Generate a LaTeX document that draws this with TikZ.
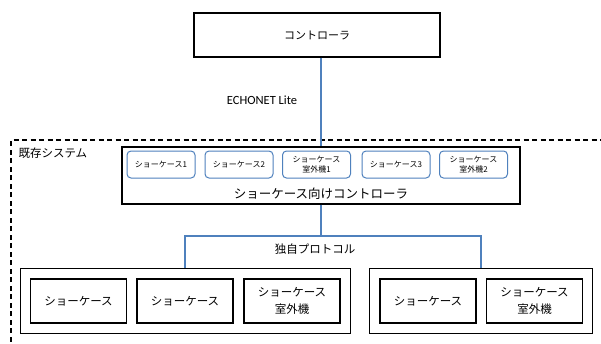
\documentclass[tikz,border=0pt]{standalone}
\usepackage{fontspec}
\setmainfont{Noto Sans CJK JP}
\newfontfamily\latinfont{Carlito}
\usepackage{tikz}
\usetikzlibrary{positioning}
\definecolor{link_blue}{RGB}{79,129,189}

\begin{document}
\begin{tikzpicture}[x=1pt,y=-1pt,
  ctrl/.style={rectangle,draw,line width=1.3pt,fill=white,minimum width=246pt,minimum height=44pt,font=\fontsize{11}{13}\selectfont},
  sccontrol/.style={rectangle,draw,line width=1.3pt,fill=white,minimum width=398pt,minimum height=57pt},
  unit/.style={rectangle,draw=link_blue,line width=1pt,rounded corners=4pt,fill=white,minimum width=68pt,minimum height=27pt,align=center,font=\fontsize{8}{10.5}\selectfont},
  group/.style={rectangle,draw,line width=1pt,minimum height=65pt},
  case/.style={rectangle,draw,line width=1.3pt,minimum width=96pt,minimum height=44pt,align=center,font=\fontsize{11.5}{16.5}\selectfont},
  link/.style={draw=link_blue,line width=1.1pt},
  frame/.style={draw,line width=1.2pt,dash pattern=on 5pt off 3.5pt},
  label/.style={font=\fontsize{11.5}{13}\selectfont}
  ]

\useasboundingbox (0,0) rectangle (601,343);

% top
\node[ctrl] (controller) at (317,35) {コントローラ};
\node[font=\latinfont\fontsize{12.5}{14}\selectfont] (echonet) at (262,100) {ECHONET Lite};

% existing system
\coordinate (frame bl) at (11,350);
\coordinate (frame tr) at (615,140);
\draw[frame] (frame bl) |- (frame tr);
\node[label,anchor=west] (existing) at (15,153) {既存システム};

\node[sccontrol] (sc) at (321,175.5) {};
\node[font=\fontsize{12.5}{14}\selectfont] (sclabel) at (321,194) {ショーケース向けコントローラ};
\node[unit] (u1) at (161,164.5) {ショーケース1};
\node[unit] (u2) at (239,164.5) {ショーケース2};
\node[unit] (u3) at (316.5,164.5) {ショーケース\\室外機1};
\node[unit] (u4) at (396,164.5) {ショーケース3};
\node[unit] (u5) at (473.5,164.5) {ショーケース\\室外機2};

% bottom groups
\node[group,minimum width=330pt] (g1) at (185,300.5) {};
\node[group,minimum width=223pt] (g2) at (481,300.5) {};
\node[case] (c1) at (78.5,301) {ショーケース};
\node[case] (c2) at (185,301) {ショーケース};
\node[case] (c3) at (292,301) {ショーケース\\室外機};
\node[case] (c4) at (428,301) {ショーケース};
\node[case] (c5) at (534.5,301) {ショーケース\\室外機};

% links
\coordinate (bus) at (321,236);
\draw[link] (controller.south -| sc.north) -- (sc.north);
\draw[link] (sc.south) -- (bus);
\draw[link] (c2 |- g1.north) |- (bus) -| (g2.north);
\node[label] (protocol) at (315,249) {独自プロトコル};

\end{tikzpicture}
\end{document}
